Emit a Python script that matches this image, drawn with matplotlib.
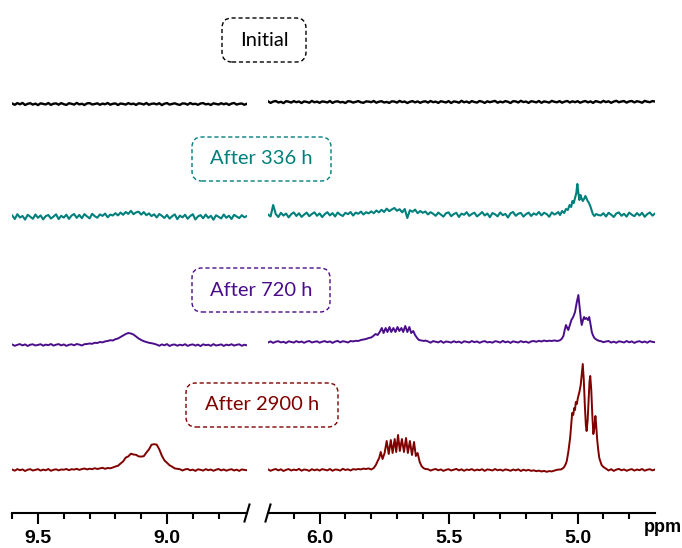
import numpy as np
import matplotlib
matplotlib.use("Agg")
import matplotlib.pyplot as plt
from matplotlib.patches import FancyBboxPatch
from matplotlib.lines import Line2D
from matplotlib.transforms import IdentityTransform

# ---------------- data ----------------
labels = ["Initial", "After 336 h", "After 720 h", "After 2900 h"]
colors = ["#000000", "#00807C", "#4B0E8A", "#800000"]

left_major = [9.5, 9.0]
left_minor = [9.6, 9.4, 9.3, 9.2, 9.1, 8.9, 8.8]
right_major = [6.0, 5.5, 5.0]
right_minor = [6.1, 5.9, 5.8, 5.7, 5.6, 5.4, 5.3, 5.2, 5.1, 4.9, 4.8]
major_labels_left = ["9.5", "9.0"]
major_labels_right = ["6.0", "5.5", "5.0"]

# sampled chemical-shift grids (ppm), 0.01 ppm step
left_ppm = np.round(9.60 - 0.01 * np.arange(92), 2)
right_ppm = np.round(6.20 - 0.01 * np.arange(151), 2)

# ---- Initial ----
initial_left = [0.5,-0.8,0.9,-0.3,1.1,-1.0,0.2,0.8,-0.6,0.4,-1.1,0.7,0.1,-0.5,1.0,-0.9,0.3,0.6,-0.7,0.9,
                -0.2,-0.9,0.8,0.2,-0.6,1.1,-0.4,0.3,-1.0,0.6,0.9,-0.5,0.0,0.7,-0.8,0.4,-0.3,1.0,-0.7,0.2,
                0.6,-1.0,0.5,0.1,-0.6,0.9,-0.2,0.4,-0.9,0.7,0.3,-0.5,1.0,-0.8,0.2,0.5,-0.4,0.8,-1.1,0.3,
                0.9,-0.6,0.1,0.7,-0.3,-0.9,0.6,0.4,-0.7,1.0,-0.2,0.3,-0.8,0.5,0.9,-0.4,0.2,-1.0,0.7,0.1,
                -0.5,0.8,-0.3,0.6,-0.9,0.4,1.0,-0.6,0.2,0.5,-0.8,0.3]
initial_right = [0.7,-0.9,0.4,1.0,-0.5,0.2,-1.1,0.8,0.3,-0.6,0.9,-0.2,0.5,-1.0,0.6,0.1,-0.7,1.1,-0.3,0.4,
                 -0.8,0.6,0.2,-0.5,1.0,-0.9,0.3,0.7,-0.4,0.1,-1.0,0.8,0.5,-0.6,0.2,0.9,-0.3,-0.8,0.6,0.4,
                 -0.2,1.0,-0.7,0.3,0.8,-0.5,0.1,-0.9,0.7,0.4,-0.6,1.1,-0.1,0.5,-1.0,0.2,0.9,-0.4,0.6,-0.8,
                 0.3,0.7,-0.6,1.0,-0.2,0.4,-0.9,0.8,0.1,-0.5,0.9,-1.0,0.6,0.2,-0.7,1.2,-0.3,0.5,-0.8,0.9,
                 0.0,-0.6,1.0,0.3,-0.9,0.7,-0.2,0.5,1.1,-0.7,0.4,-0.4,0.9,0.2,-1.0,0.8,0.6,-0.5,1.2,-0.1,
                 0.5,-0.9,0.8,0.3,-0.4,1.0,-0.8,0.6,0.1,-0.6,1.1,0.2,-0.3,0.9,-0.7,0.4,1.0,-0.5,0.7,-0.2,
                 0.8,-0.7,0.3,1.0,-0.4,0.6,-0.9,0.9,0.2,-0.5,1.1,-0.1,0.7,-0.8,0.4,1.2,-0.3,0.5,0.9,-0.6,
                 0.6,1.0,-0.4,0.8,0.2,-0.7,1.1,0.3,-0.2,0.9,0.5]

# ---- After 336 h ----
h336_left = [1.5,-2.0,2.8,-0.5,1.0,-2.6,2.2,0.3,-1.8,2.5,-0.8,1.6,-2.4,0.9,2.0,-1.5,0.4,2.7,-2.1,1.2,
             -0.6,2.3,-1.9,1.4,3.0,-0.9,2.1,-1.2,2.9,0.6,-1.4,3.2,0.8,-0.7,2.6,1.1,3.4,-0.3,2.4,1.5,
             3.8,1.6,4.4,2.2,5.0,3.1,6.2,2.8,4.6,5.3,2.4,4.9,1.8,3.6,0.9,2.7,-0.5,3.0,1.2,-1.0,
             2.1,-1.6,0.8,2.6,-2.2,1.4,-0.4,2.3,-1.8,1.0,2.8,-2.5,0.6,1.9,-1.3,2.4,-0.9,1.2,-2.7,1.7,
             0.2,-1.5,2.5,-0.8,1.3,-2.0,2.2,0.5,-1.1,1.8,-0.3,1.0]
h336_right = [0.5,-1.5,10.0,1.0,-2.0,2.2,-0.6,1.5,-2.4,0.8,2.6,-1.0,1.8,-1.9,0.4,2.4,-1.2,1.0,2.7,-0.8,
              1.6,-2.1,0.9,2.8,-0.4,1.9,-1.5,2.5,0.3,-1.0,2.2,0.8,3.0,-0.6,2.4,1.2,3.4,0.5,2.8,1.6,
              3.6,1.8,4.5,2.6,5.2,3.0,6.4,3.8,5.6,7.0,4.2,5.8,2.6,6.0,-3.0,4.8,3.2,5.4,1.8,4.0,
              2.2,3.5,0.6,2.8,1.2,-0.8,2.4,0.4,-1.6,1.8,2.6,-1.2,0.9,2.2,-2.0,1.4,0.2,2.8,-0.9,1.0,
              2.3,-1.4,0.6,2.9,-0.5,1.5,-2.2,2.0,0.7,-1.3,2.5,-0.2,1.1,-2.5,1.7,3.0,-0.8,1.3,2.1,-1.6,
              0.8,2.4,-1.0,1.6,0.2,3.0,-0.4,2.2,1.0,-1.8,2.6,0.5,3.6,1.8,4.5,5.0,8.0,10,14,17,
              26,15,18,15,17,16,13,9,3,-0.5,1.8,-1.5,2.2,0.4,-2.0,1.5,2.6,-0.8,1.2,-1.6,
              2.4,0.3,-1.2,1.9,-0.5,2.2,-1.8,0.9,2.5,-0.6,1.4]
h336_main_ppm = [5.085,5.075,5.068,5.060,5.052,5.045,5.038,5.031,5.025,5.020,5.015,5.010,5.005,5.001,4.997,
                 4.993,4.989,4.985,4.980,4.975,4.970,4.966,4.961,4.956,4.951,4.946,4.941,4.935,4.928,4.920]
h336_main_int = [1,3,0,4,2,6,5,10,8,14,12,17,22,31,22,
                 15,20,17,14,16,19,17,14,12,9,5,1,-1,1,0]

# ---- After 720 h ----
h720_left = [0.5,-0.8,0.2,0.9,-0.4,0.6,-1.0,0.3,0.7,-0.5,0.1,0.8,-0.7,0.4,-0.2,1.0,-0.6,0.3,0.9,-0.4,
             0.6,-0.9,0.2,0.7,-0.3,1.0,0.4,-0.5,0.8,
             1.0,1.5,1.2,2.2,2.0,3.0,2.6,3.6,4.0,4.8,4.5,5.8,6.5,8.0,9.5,11.0,12.0,11.5,10.5,8.5,
             6.5,5.0,3.8,3.0,2.2,1.8,1.2,
             0.4,-0.8,0.6,-0.3,0.9,-1.0,0.2,0.5,-0.7,0.3,-0.4,0.8,-0.9,0.1,0.6,-0.6,0.4,-1.1,0.7,-0.2,
             0.3,-0.8,0.9,-0.5,0.0,0.6,-0.9,0.4,-0.3,0.8,-0.6,0.2,0.7,-0.8,0.3,-0.4]
h720_right = [-0.5,0.6,-0.9,0.3,0.8,-0.4,0.2,-1.0,0.7,0.1,-0.6,0.9,-0.3,0.5,-0.8,0.4,1.0,-0.5,0.2,0.7,
              -0.7,0.3,0.9,-0.2,0.6,-0.9,0.4,1.1,-0.4,0.8,0.3,-0.5,1.0,0.6,1.2,
              1,2,2.5,3,4,4.5,6,8,10,14,9,14,10,15,10,14,10,15,11,14,10,16,10,15,9,5,1.5,
              0.6,-0.7,0.9,0.2,-0.4,1.0,-0.8,0.5,0.1,-0.6,0.8,-0.3,0.4,-0.9,0.7,0.2,-0.5,1.0,-0.2,0.6,
              -0.8,0.3,0.9,-0.4,0.1,-0.7,0.8,0.4,-0.6,1.1,-0.3,0.5,-0.9,0.7,0.0,-0.5,0.9,-0.2,0.4,-0.8,
              0.6,1.0,0.2,1.2,0.5,1.5,0.8,1.3,1.0,1.6,
              1,1.5,6,17,12,22,30,47,22,22,24,25,10,4,2,0.6,-0.4,0.9,-0.2,0.5,1.0,-0.6,
              0.4,-0.8,0.7,0.2,-0.5,1.0,-0.3,0.6,-0.9,0.3,0.8,-0.4,0.5,-0.7,0.9,0.1,-0.2]
h720_mult_ppm = [5.850,5.840,5.830,5.820,5.810,5.800,5.792,5.783,5.775,5.767,5.759,5.752,5.744,5.737,5.729,5.722,
                 5.714,5.706,5.698,5.691,5.683,5.676,5.668,5.660,5.652,5.645,5.637,5.630,5.622,5.615,5.605,5.595]
h720_mult_int = [1,2,2.5,3,4,4.5,6,8,7,10,14,9,14,10,15,10,
                 14,10,15,11,14,10,16,10,15,9,11,7,4,2,1.5,1]
h720_main_ppm = [5.080,5.070,5.062,5.055,5.050,5.045,5.040,5.036,5.030,5.024,5.017,5.010,5.003,4.997,4.992,
                 4.987,4.984,4.979,4.975,4.971,4.966,4.960,4.955,4.950,4.945,4.941,4.935,4.925,4.915]
h720_main_int = [1,1.5,3,6,12,17,14,12,17,22,25,30,40,47,35,
                 22,17,22,25,23,24,22,25,18,10,7,4,2,1]

# ---- After 2900 h ----
h2900_left = [0.4,-0.7,0.9,-0.2,0.6,-1.0,0.3,0.8,-0.5,0.1,0.9,-0.6,0.4,-0.3,1.0,-0.8,0.2,0.7,-0.4,0.5,
              0.3,1.0,-0.2,0.8,0.4,1.2,0.1,0.9,1.5,0.6,1.3,0.8,1.8,1.0,1.6,2.2,1.2,2.0,1.7,2.5,
              3.5,4.2,6.5,8.6,12.4,13.6,16.3,15.5,15.2,13.6,13.4,13.8,17.4,20.6,25.3,25.8,25.4,20.7,14.3,9.6,
              7.2,4.7,3.3,1.6,1.2,
              0.8,-0.5,0.6,1.0,-0.3,0.4,-0.9,0.7,0.2,-0.6,0.9,-0.2,0.5,-0.8,0.3,1.0,-0.4,0.6,-0.7,0.2,
              0.8,-0.5,0.4,-0.9,0.6,0.1,-0.3]
h2900_right = [0.6,-0.8,0.3,1.0,-0.4,0.7,-1.0,0.2,0.9,-0.5,0.4,-0.2,1.1,-0.7,0.5,0.1,-0.9,0.8,-0.3,0.6,
               -0.6,0.9,0.2,-0.4,1.0,-0.8,0.5,0.3,-0.6,1.2,0.0,0.7,-0.5,0.9,0.4,1.0,0.6,1.4,1.0,1.6,
               1,3,9,18,20,30,30,31,35,31,32,29,28,17,8,3,1,1,1,1,1,1,
               0.8,-0.6,0.4,1.0,-0.3,0.6,-0.9,0.2,0.8,-0.5,0.3,1.1,-0.4,0.7,-0.8,0.5,0.0,0.9,-0.6,0.4,
               -0.2,0.8,-0.9,0.6,0.2,-0.5,1.0,-0.3,0.4,-0.7,0.6,0.1,-0.8,0.5,-0.4,0.7,-1.0,0.3,-0.6,0.2,
               -0.9,-0.3,-1.2,-0.6,-1.5,-0.9,-1.8,-1.1,-1.4,-0.6,0.2,
               0.5,1,3,9,30,57,68,72,80,106,60,40,92,36,50,15,5,2,
               1.0,-0.5,0.8,-0.9,0.4,1.1,-0.3,0.6,-0.8,0.2,0.9,-0.6,0.5,-0.2,1.0,-0.7,0.3,0.8,-0.4,0.5]
h2900_mult_ppm = [5.800,5.790,5.782,5.775,5.769,5.763,5.756,5.748,5.740,5.732,5.724,5.717,5.709,5.703,5.696,
                  5.689,5.681,5.673,5.665,5.658,5.650,5.642,5.634,5.627,5.620,5.612,5.605,5.598,5.590]
h2900_mult_int = [0.5,2,5,9,12,18,11,17,29,16,30,17,31,18,35,
                  19,31,18,32,17,29,15,28,14,17,8,4,2,1]
h2900_main_ppm = [5.065,5.058,5.052,5.046,5.042,5.036,5.029,5.024,5.021,5.017,5.013,5.010,5.007,5.003,4.999,
                  4.993,4.988,4.984,4.980,4.976,4.972,4.968,4.965,4.961,4.957,4.954,4.951,4.947,4.943,4.939,
                  4.935,4.931,4.928,4.924,4.920,4.916,4.911,4.907,4.900,4.894,4.888]
h2900_main_int = [0.5,1.5,3,6,9,18,32,48,57,55,62,60,68,66,72,
                  78,85,96,106,90,65,45,39,50,72,88,94,80,55,36,
                  42,54,45,30,20,12,8,5,3,2,1]

# ---------------- layout ----------------
W, H = 682, 548
AX_Y = 512.5                      # pixel row of the ppm axis line
PX_PER_PPM = 258.0
base_left_px = [104, 217, 345, 470]
base_right_px = [102, 215, 342, 470]
line_widths = [1.7, 1.5, 1.4, 1.4]
box_specs = [  # (cx, cy, w, h) in pixels from top-left
    (264, 40, 84, 44),
    (261.5, 159, 139, 44),
    (261, 290, 138, 44),
    (262, 405, 152, 44),
]


def merge(grid_x, grid_y, dense):
    gx = np.asarray(grid_x, float)
    gy = np.asarray(grid_y, float)
    keep = np.ones(gx.shape, bool)
    xs, ys = [], []
    for dx, dy in dense:
        dx = np.asarray(dx, float)
        keep &= ~((gx >= dx.min() - 1e-9) & (gx <= dx.max() + 1e-9))
        xs.append(dx)
        ys.append(np.asarray(dy, float))
    allx = np.concatenate([gx[keep]] + xs)
    ally = np.concatenate([gy[keep]] + ys)
    order = np.argsort(-allx)
    return allx[order], ally[order]


traces = [
    (initial_left, initial_right, []),
    (h336_left, h336_right, [(h336_main_ppm, h336_main_int)]),
    (h720_left, h720_right, [(h720_mult_ppm, h720_mult_int), (h720_main_ppm, h720_main_int)]),
    (h2900_left, h2900_right, [(h2900_mult_ppm, h2900_mult_int), (h2900_main_ppm, h2900_main_int)]),
]

fig = plt.figure(figsize=(W / 100, H / 100), dpi=100)
fig.patch.set_facecolor("white")

left_lim = (9.60, 8.69)
right_lim = (6.20, 4.70)
x_left0 = 12.2
x_right0 = 268.0
wl = (left_lim[0] - left_lim[1]) * PX_PER_PPM
wr = (right_lim[0] - right_lim[1]) * PX_PER_PPM
axL = fig.add_axes([x_left0 / W, (H - AX_Y) / H, wl / W, AX_Y / H])
axR = fig.add_axes([x_right0 / W, (H - AX_Y) / H, wr / W, AX_Y / H])

for i, (lv, rv, dense) in enumerate(traces):
    yl = (AX_Y - base_left_px[i]) + np.asarray(lv, float)
    axL.plot(left_ppm, yl, color=colors[i], lw=line_widths[i], solid_joinstyle="round")
    rx, ry = merge(right_ppm, rv, dense)
    axR.plot(rx, (AX_Y - base_right_px[i]) + ry, color=colors[i], lw=line_widths[i],
             solid_joinstyle="round")

for ax, lim, maj, mnr, lab in [(axL, left_lim, left_major, left_minor, major_labels_left),
                               (axR, right_lim, right_major, right_minor, major_labels_right)]:
    ax.set_xlim(*lim)
    ax.set_ylim(0, AX_Y)
    ax.patch.set_visible(False)
    for s in ["top", "left", "right"]:
        ax.spines[s].set_visible(False)
    ax.spines["bottom"].set_linewidth(1.5)
    ax.set_yticks([])
    ax.set_xticks(maj)
    ax.set_xticklabels(lab)
    ax.set_xticks(mnr, minor=True)
    ax.tick_params(axis="x", which="major", direction="out", length=7.9, width=1.5, pad=5.0,
                   labelsize=14)
    ax.tick_params(axis="x", which="minor", direction="out", length=4.3, width=1.5)
    for t in ax.get_xticklabels():
        t.set_fontfamily("Liberation Sans")
        t.set_fontweight("bold")

# axis-break slashes
for xb in [x_left0 + wl, x_right0]:
    fig.add_artist(Line2D([xb - 2.5, xb + 2.5], [H - (AX_Y + 9), H - (AX_Y - 8)],
                          transform=IdentityTransform(), color="black", lw=1.5))

# labels in dashed rounded boxes
for i, (cx, cy, bw, bh) in enumerate(box_specs):
    patch = FancyBboxPatch((cx - bw / 2, H - cy - bh / 2), bw, bh,
                           boxstyle="round,pad=0,rounding_size=10",
                           transform=IdentityTransform(), facecolor="none",
                           edgecolor=colors[i], lw=1.0, linestyle=(0, (3, 2)))
    fig.add_artist(patch)
    fig.text(cx / W, 1 - cy / H, labels[i], ha="center", va="center", color=colors[i],
             fontsize=14.5, family="Lato")

fig.text(663 / W, 1 - 528 / H, "ppm", ha="center", va="center", fontsize=13,
         fontweight="bold", family="Liberation Sans")

fig.savefig("out.png", dpi=100, facecolor="white")
